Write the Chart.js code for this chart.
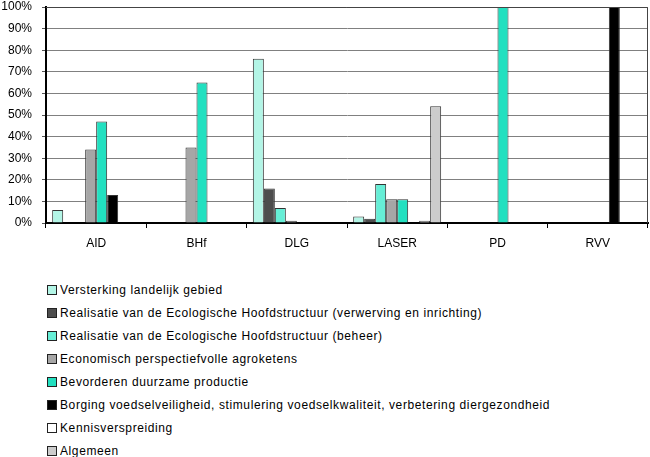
<!DOCTYPE html>
<html><head><meta charset="utf-8">
<script src="https://cdn.jsdelivr.net/npm/chart.js@4/dist/chart.umd.min.js"></script>
<style>
html,body{margin:0;padding:0;background:#fff;width:650px;height:457px;overflow:hidden;font-family:"Liberation Sans",Arial,sans-serif;}
#wrap{position:absolute;left:0;top:0;width:650px;height:265px;}
#legend{position:absolute;left:47px;top:278px;}
.item{height:23px;display:flex;align-items:center;font-size:12px;color:#000;white-space:nowrap;letter-spacing:0.6px;}
.box{width:8px;height:8px;border:1px solid #222;margin-right:3px;flex:none;}
</style></head><body>
<div id="wrap"><canvas id="c" width="650" height="265"></canvas></div>
<div id="legend"></div>
<script>
const categories = ['AID','BHf','DLG','LASER','PD','RVV'];
const seriesNames = [
  'Versterking landelijk gebied',
  'Realisatie van de Ecologische Hoofdstructuur (verwerving en inrichting)',
  'Realisatie van de Ecologische Hoofdstructuur (beheer)',
  'Economisch perspectiefvolle agroketens',
  'Bevorderen duurzame productie',
  'Borging voedselveiligheid, stimulering voedselkwaliteit, verbetering diergezondheid',
  'Kennisverspreiding',
  'Algemeen'
];
const versterking   = [6, 0, 76, 3, 0, 0];
const ehsVerwerving = [0, 0, 16, 2, 0, 0];
const ehsBeheer     = [0, 0, 7, 18, 0, 0];
const economisch    = [34, 35, 1, 11, 0, 0];
const bevorderen    = [47, 65, 0, 11, 100, 0];
const borging       = [13, 0, 0, 0, 0, 100];
const kennis        = [0, 0, 0, 1, 0, 0];
const algemeen      = [0, 0, 0, 54, 0, 0];
const yTicks = [0,10,20,30,40,50,60,70,80,90,100];

const seriesValues = [versterking, ehsVerwerving, ehsBeheer, economisch, bevorderen, borging, kennis, algemeen];
const colors = ['#B3F5E6','#4D4D4D','#66EED6','#A6A6A6','#22E0C0','#000000','#FFFFFF','#CCCCCC'];

const datasets = seriesValues.map((vals, i) => ({
  label: seriesNames[i],
  data: vals,
  backgroundColor: colors[i],
  borderColor: '#333333',
  borderWidth: 1,
  borderSkipped: 'start',
  categoryPercentage: 0.877,
  barPercentage: 1.0
}));

const framePlugin = {
  id: 'frame',
  afterDraw(chart) {
    const a = chart.chartArea, ctx = chart.ctx;
    ctx.save();
    ctx.strokeStyle = '#444';
    ctx.lineWidth = 1;
    ctx.beginPath();
    ctx.moveTo(a.left, a.top + 0.5);
    ctx.lineTo(a.right - 0.5, a.top + 0.5);
    ctx.lineTo(a.right - 0.5, a.bottom);
    ctx.stroke();
    ctx.restore();
  }
};

new Chart(document.getElementById('c'), {
  type: 'bar',
  data: { labels: categories, datasets },
  plugins: [framePlugin],
  options: {
    responsive: false,
    animation: false,
    layout: { padding: { top: 7, right: 2, left: 0, bottom: 0 } },
    plugins: { legend: { display: false }, tooltip: { enabled: false } },
    scales: {
      x: {
        grid: { drawOnChartArea: false, drawTicks: true, tickLength: 5, tickColor: '#000', offset: true },
        border: { display: true, color: '#000', width: 2 },
        ticks: { color: '#000', font: { family: 'Liberation Sans', size: 12 }, padding: 8 },
        afterFit(s) { s.height = 42; s.paddingLeft = 0; s.paddingRight = 0; }
      },
      y: {
        min: 0, max: 100,
        afterBuildTicks(s) { s.ticks = yTicks.map(v => ({ value: v })); },
        ticks: { color: '#000', font: { family: 'Liberation Sans', size: 12 }, padding: 10, callback: v => v + '%' },
        grid: { color: '#808080', lineWidth: 1, tickLength: 4, tickColor: '#555' },
        border: { display: true, color: '#000', width: 2 },
        afterFit(s) { s.width = 46; s.paddingTop = 0; s.paddingBottom = 0; }
      }
    }
  }
});

const leg = document.getElementById('legend');
seriesNames.forEach((n, i) => {
  const it = document.createElement('div'); it.className = 'item';
  const b = document.createElement('span'); b.className = 'box'; b.style.background = colors[i];
  const t = document.createElement('span'); t.textContent = n;
  it.appendChild(b); it.appendChild(t); leg.appendChild(it);
});
</script>
</body></html>
